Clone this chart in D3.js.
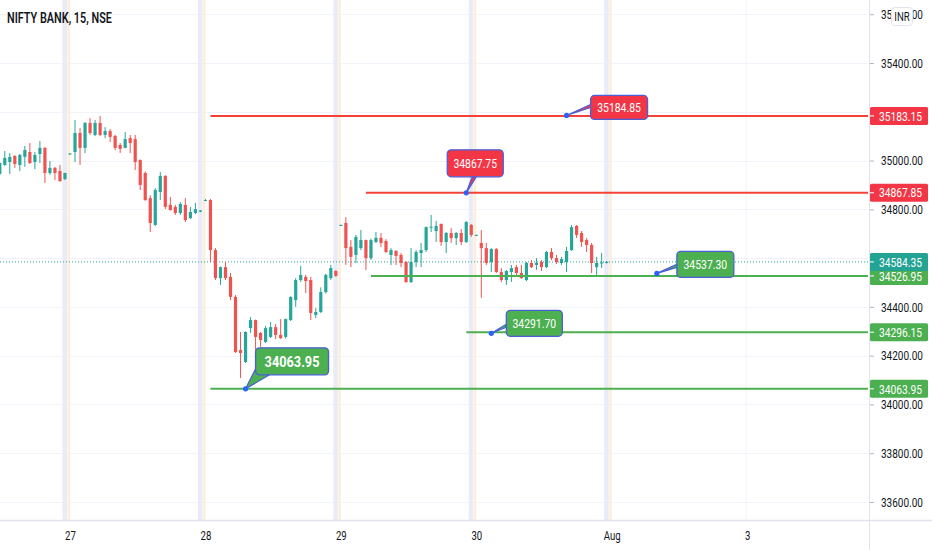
<!DOCTYPE html>
<html>
<head>
<meta charset="utf-8">
<script src="https://cdn.jsdelivr.net/npm/d3@7"></script>
<style>
  html, body { margin: 0; padding: 0; background: #fff; }
  svg text { font-family: Roboto, "Noto Sans", sans-serif; }
</style>
</head>
<body>
<svg id="chart" width="932" height="550"></svg>
<script>
const width = 932;
const height = 550;
const plotRight = 868;
const plotBottom = 520;

const title = "NIFTY BANK, 15, NSE";
const currency = "INR";
const dayLabels = ["27", "28", "29", "30", "Aug", "3"];
const dayStart = [0, 27, 54, 81, 108, 135];
const priceTicks = [35600, 35400, 35200, 35000, 34800, 34600, 34400, 34200, 34000, 33800, 33600];

// 15 minute candles, [open, high, low, close]
const jul26 = [
  [34945, 34992, 34940, 34990], [34982, 35039, 34978, 35011], [34994, 35031, 34945, 35015],
  [35019, 35022, 34970, 34986], [34982, 35027, 34957, 35023], [35015, 35060, 34974, 35043],
  [35035, 35072, 34986, 34990], [34994, 35035, 34965, 35023], [35027, 35080, 34990, 35052],
  [35052, 35055, 34908, 34949], [34949, 34998, 34941, 34970], [34970, 34974, 34920, 34949],
  [34957, 34982, 34912, 34916], [34924, 34950, 34920, 34949]
];
const jul27 = [
  [35025, 35030, 35024, 35029], [35035, 35166, 34994, 35113], [35113, 35133, 34982, 35052],
  [35052, 35158, 35031, 35154], [35154, 35174, 35105, 35113], [35105, 35166, 35100, 35154],
  [35154, 35183, 35100, 35105], [35105, 35137, 35092, 35121], [35121, 35129, 35076, 35097],
  [35101, 35105, 35043, 35052], [35064, 35072, 35031, 35048], [35052, 35117, 35050, 35088],
  [35092, 35105, 35031, 35072], [35088, 35105, 34961, 34994], [35002, 35005, 34879, 34900],
  [34949, 34955, 34835, 34838], [34846, 34858, 34707, 34744], [34736, 34887, 34732, 34879],
  [34871, 34953, 34838, 34937], [34937, 34940, 34801, 34810], [34818, 34851, 34795, 34797],
  [34810, 34818, 34777, 34785], [34785, 34830, 34777, 34822], [34818, 34846, 34748, 34756],
  [34764, 34810, 34760, 34789], [34785, 34826, 34780, 34801], [34790, 34797, 34788, 34795]
];
const jul28 = [
  [34836, 34842, 34834, 34838], [34838, 34842, 34584, 34633], [34633, 34641, 34510, 34518],
  [34518, 34565, 34490, 34563], [34563, 34584, 34510, 34518], [34523, 34539, 34428, 34441],
  [34441, 34449, 34211, 34215], [34223, 34297, 34108, 34211], [34174, 34300, 34170, 34297],
  [34313, 34358, 34293, 34346], [34346, 34348, 34223, 34277], [34293, 34297, 34236, 34264],
  [34256, 34322, 34252, 34313], [34277, 34338, 34272, 34317], [34317, 34330, 34268, 34285],
  [34285, 34350, 34268, 34272], [34277, 34352, 34270, 34350], [34346, 34443, 34342, 34441],
  [34428, 34518, 34400, 34510], [34510, 34568, 34502, 34531], [34523, 34531, 34457, 34506],
  [34510, 34523, 34346, 34375], [34367, 34395, 34354, 34379], [34379, 34480, 34375, 34461],
  [34461, 34535, 34455, 34531], [34518, 34572, 34510, 34559], [34547, 34551, 34523, 34527]
];
const jul29 = [
  [34734, 34738, 34733, 34736], [34744, 34768, 34572, 34641], [34646, 34674, 34563, 34605],
  [34613, 34695, 34580, 34687], [34641, 34715, 34633, 34674], [34674, 34676, 34551, 34600],
  [34600, 34680, 34592, 34674], [34666, 34707, 34662, 34683], [34683, 34703, 34646, 34662],
  [34670, 34678, 34621, 34625], [34613, 34641, 34572, 34633], [34629, 34633, 34572, 34609],
  [34613, 34621, 34563, 34580], [34584, 34588, 34498, 34502], [34502, 34641, 34498, 34584],
  [34584, 34633, 34563, 34625], [34621, 34662, 34563, 34633], [34633, 34730, 34625, 34727],
  [34725, 34777, 34707, 34729], [34711, 34752, 34666, 34732], [34740, 34742, 34650, 34666],
  [34666, 34707, 34621, 34703], [34703, 34723, 34662, 34682], [34682, 34707, 34654, 34703],
  [34703, 34719, 34654, 34666], [34666, 34752, 34662, 34748], [34736, 34740, 34687, 34695]
];
const jul30 = [
  [34693, 34697, 34692, 34695], [34662, 34715, 34437, 34641], [34641, 34662, 34572, 34580],
  [34584, 34641, 34543, 34637], [34637, 34641, 34539, 34543], [34543, 34559, 34502, 34510],
  [34510, 34551, 34490, 34547], [34543, 34572, 34502, 34559], [34563, 34572, 34523, 34539],
  [34539, 34572, 34515, 34518], [34510, 34584, 34506, 34580], [34580, 34592, 34559, 34563],
  [34572, 34600, 34551, 34580], [34584, 34592, 34547, 34563], [34563, 34629, 34559, 34625],
  [34625, 34641, 34592, 34600], [34600, 34613, 34576, 34584], [34580, 34605, 34572, 34596],
  [34584, 34646, 34543, 34629], [34633, 34736, 34629, 34727], [34732, 34736, 34682, 34695],
  [34703, 34711, 34646, 34666], [34674, 34682, 34625, 34654], [34654, 34662, 34539, 34580],
  [34563, 34605, 34531, 34580], [34578, 34621, 34559, 34582], [34580, 34588, 34578, 34584.35]
];
const sessionFirstBar = [-14, 0, 27, 54, 81];

const lastPrice = 34584.35;

// horizontal rays: price, first bar, resistance / support
const levelPrices = [35183.15, 34867.85, 34526.95, 34296.15, 34063.95];
const levelFrom = [28, 59, 60, 79, 28];
const levelSide = ["R", "R", "S", "S", "S"];

// callout notes pinned at a bar / price
const noteTexts = ["35184.85", "34867.75", "34537.30", "34291.70", "34063.95"];
const notePrices = [35184.85, 34867.75, 34537.30, 34291.70, 34063.95];
const noteBars = [99, 79, 117, 84, 35];

// --- layout / styling ---
const upColor = "#26a69a", downColor = "#ef5350";
const sideColor = {R: "#f44336", S: "#4caf50"};
const tagColor = {R: "#f23645", S: "#4caf50"};
const lastColor = "#22a393";
const outline = "#4a5fd8";
const noteLayout = [
  {dx: 24, dy: -20, w: 57, h: 24, fs: 13, bold: false, tail: [[0, 9], [0, 12]]},
  {dx: -19, dy: -43, w: 56, h: 27, fs: 13, bold: false, tail: [[25, 27], [29, 27]]},
  {dx: 20, dy: -22, w: 57, h: 26, fs: 13, bold: false, tail: [[0, 13], [0, 16]]},
  {dx: 15, dy: -23, w: 56, h: 26, fs: 13, bold: false, tail: [[0, 14], [0, 17]]},
  {dx: 10, dy: -41, w: 73, h: 27, fs: 15, bold: true, tail: [[2, 17], [14, 27]]}
];

// narrow the glyphs horizontally (the reference type is condensed)
const squeeze = (sel, k) => {
  sel.each(function () {
    const t = d3.select(this);
    const x0 = +t.attr("x") || 0;
    t.attr("x", x0 / k).attr("transform", `scale(${k},1)`);
  });
};

const bars = [];
[jul26, jul27, jul28, jul29, jul30].forEach((day, k) => {
  day.forEach((r, j) => bars.push({i: sessionFirstBar[k] + j, o: r[0], h: r[1], l: r[2], c: r[3]}));
});

const x = d3.scaleLinear().domain([0, 108]).range([70, 611.7]);
const y = d3.scaleLinear().domain([33600, 35400]).range([502, 63]);

const svg = d3.select("#chart");
svg.append("rect").attr("width", width).attr("height", height).attr("fill", "#fff");

// grid
svg.append("g").selectAll("line").data(priceTicks).join("line")
  .attr("x1", 0).attr("x2", plotRight)
  .attr("y1", d => Math.round(y(d)) + 0.5).attr("y2", d => Math.round(y(d)) + 0.5)
  .attr("stroke", "#f0f3fa").attr("stroke-width", 1);

svg.append("g").selectAll("line").data(dayStart).join("line")
  .attr("x1", d => x(d) - 1).attr("x2", d => x(d) - 1)
  .attr("y1", 0).attr("y2", plotBottom)
  .attr("stroke", "#f0f3fa").attr("stroke-width", 1);

// session breaks
const breaks = dayStart.slice(0, 5);
svg.append("g").selectAll("rect").data(breaks).join("rect")
  .attr("x", d => x(d) - 7.5).attr("width", 4.5)
  .attr("y", 0).attr("height", plotBottom)
  .attr("fill", "#e9ebf8");
svg.append("g").selectAll("rect").data(breaks).join("rect")
  .attr("x", d => x(d) - 2.5).attr("width", 2.5)
  .attr("y", 0).attr("height", plotBottom)
  .attr("fill", "#fdeed8");

// last price dotted line
svg.append("line")
  .attr("x1", 0).attr("x2", plotRight)
  .attr("y1", y(lastPrice)).attr("y2", y(lastPrice))
  .attr("stroke", lastColor).attr("stroke-width", 1)
  .attr("stroke-dasharray", "1,2");

// candles
const gC = svg.append("g");
gC.selectAll("line").data(bars).join("line")
  .attr("x1", d => x(d.i)).attr("x2", d => x(d.i))
  .attr("y1", d => y(d.h)).attr("y2", d => y(d.l))
  .attr("stroke", d => d.c >= d.o ? upColor : downColor)
  .attr("stroke-width", 1);
gC.selectAll("rect").data(bars).join("rect")
  .attr("x", d => x(d.i) - 1.6).attr("width", 3.2)
  .attr("y", d => y(Math.max(d.o, d.c)))
  .attr("height", d => Math.max(1, Math.abs(y(d.o) - y(d.c))))
  .attr("fill", d => d.c >= d.o ? upColor : downColor);

// horizontal rays
svg.append("g").selectAll("line").data(levelPrices).join("line")
  .attr("x1", (d, i) => x(levelFrom[i])).attr("x2", plotRight)
  .attr("y1", d => y(d)).attr("y2", d => y(d))
  .attr("stroke", (d, i) => sideColor[levelSide[i]])
  .attr("stroke-width", 2);

// callouts
const notes = noteTexts.map((t, i) => {
  const px = x(noteBars[i]), py = y(notePrices[i]);
  const L = noteLayout[i];
  return {t, px, py, bx: px + L.dx, by: py + L.dy, L, color: tagColor[levelSide[i]]};
});
const gN = svg.append("g");
notes.forEach(n => {
  const g = gN.append("g");
  const a = n.L.tail[0], b = n.L.tail[1];
  g.append("polygon")
    .attr("points", [[n.px, n.py], [n.bx + a[0], n.by + a[1]], [n.bx + b[0], n.by + b[1]]].map(p => p.join(",")).join(" "))
    .attr("fill", n.color).attr("stroke", outline).attr("stroke-width", 1.2)
    .attr("stroke-linejoin", "round");
  g.append("rect")
    .attr("x", n.bx).attr("y", n.by).attr("width", n.L.w).attr("height", n.L.h)
    .attr("rx", 4).attr("fill", n.color)
    .attr("stroke", outline).attr("stroke-width", 1.3);
  g.append("text")
    .attr("x", n.bx + n.L.w / 2).attr("y", n.by + n.L.h / 2)
    .attr("dy", "0.36em").attr("text-anchor", "middle")
    .attr("fill", "#fff").attr("font-size", n.L.fs)
    .attr("font-weight", n.L.bold ? 700 : 400)
    .text(n.t)
    .call(squeeze, n.L.bold ? 0.85 : 0.8);
  g.append("circle").attr("cx", n.px).attr("cy", n.py).attr("r", 2.6).attr("fill", "#2962ff");
});

// axes borders
svg.append("line").attr("x1", 0).attr("x2", width)
  .attr("y1", plotBottom + 0.5).attr("y2", plotBottom + 0.5)
  .attr("stroke", "#e0e3eb").attr("stroke-width", 1.5);
svg.append("line").attr("x1", plotRight + 1.5).attr("x2", plotRight + 1.5)
  .attr("y1", 0).attr("y2", height)
  .attr("stroke", "#e0e3eb").attr("stroke-width", 1);

// right price axis
const tagPrices = levelPrices.concat([lastPrice]);
const gY = svg.append("g")
  .attr("transform", `translate(${plotRight + 2},0)`)
  .call(d3.axisRight(y).tickValues(priceTicks).tickFormat(d3.format(".2f")).tickSize(4).tickPadding(7));
gY.select(".domain").remove();
gY.selectAll(".tick line").attr("stroke", "#b2b5be");
gY.selectAll(".tick text")
  .attr("font-size", 13).attr("fill", "#131722")
  .attr("font-family", "Roboto, 'Noto Sans', sans-serif")
  .style("display", d => tagPrices.some(p => Math.abs(y(p) - y(d)) < 12) ? "none" : null)
  .call(squeeze, 0.77);

// price tags
const tags = levelPrices.map((p, i) => ({p, color: tagColor[levelSide[i]]}))
  .concat([{p: lastPrice, color: lastColor}]);
const gT = svg.append("g");
tags.forEach(t => {
  const ty = y(t.p);
  gT.append("rect").attr("x", plotRight + 2).attr("y", ty - 9)
    .attr("width", 58).attr("height", 18).attr("rx", 1.5).attr("fill", t.color);
  gT.append("line").attr("x1", plotRight + 2).attr("x2", plotRight + 6)
    .attr("y1", ty).attr("y2", ty).attr("stroke", "#fff").attr("stroke-width", 1);
  gT.append("text").attr("x", plotRight + 11).attr("y", ty).attr("dy", "0.36em")
    .attr("font-size", 13).attr("fill", "#fff")
    .text(d3.format(".2f")(t.p))
    .call(squeeze, 0.79);
});

// currency badge
svg.append("rect").attr("x", 891.5).attr("y", 7.5).attr("width", 21).attr("height", 18)
  .attr("rx", 3).attr("fill", "#fff").attr("stroke", "#e0e3eb");
svg.append("text").attr("x", 902).attr("y", 16.5).attr("dy", "0.36em")
  .attr("text-anchor", "middle").attr("font-size", 12).attr("fill", "#131722")
  .text(currency).call(squeeze, 0.8);

// time axis
const gX = svg.append("g")
  .attr("transform", `translate(0,${plotBottom})`)
  .call(d3.axisBottom(x).tickValues(dayStart).tickFormat((d, i) => dayLabels[i]).tickSize(0).tickPadding(11));
gX.select(".domain").remove();
gX.selectAll(".tick text")
  .attr("font-size", 12).attr("fill", "#131722")
  .attr("font-family", "Roboto, 'Noto Sans', sans-serif")
  .call(squeeze, 0.8);

// title, narrowed to the reference width
const titleText = svg.append("text").attr("x", 7).attr("y", 23)
  .attr("font-size", 14).attr("font-weight", 600).attr("fill", "#131722")
  .text(title);
titleText.call(squeeze, 105 / titleText.node().getComputedTextLength());
</script>
</body>
</html>
